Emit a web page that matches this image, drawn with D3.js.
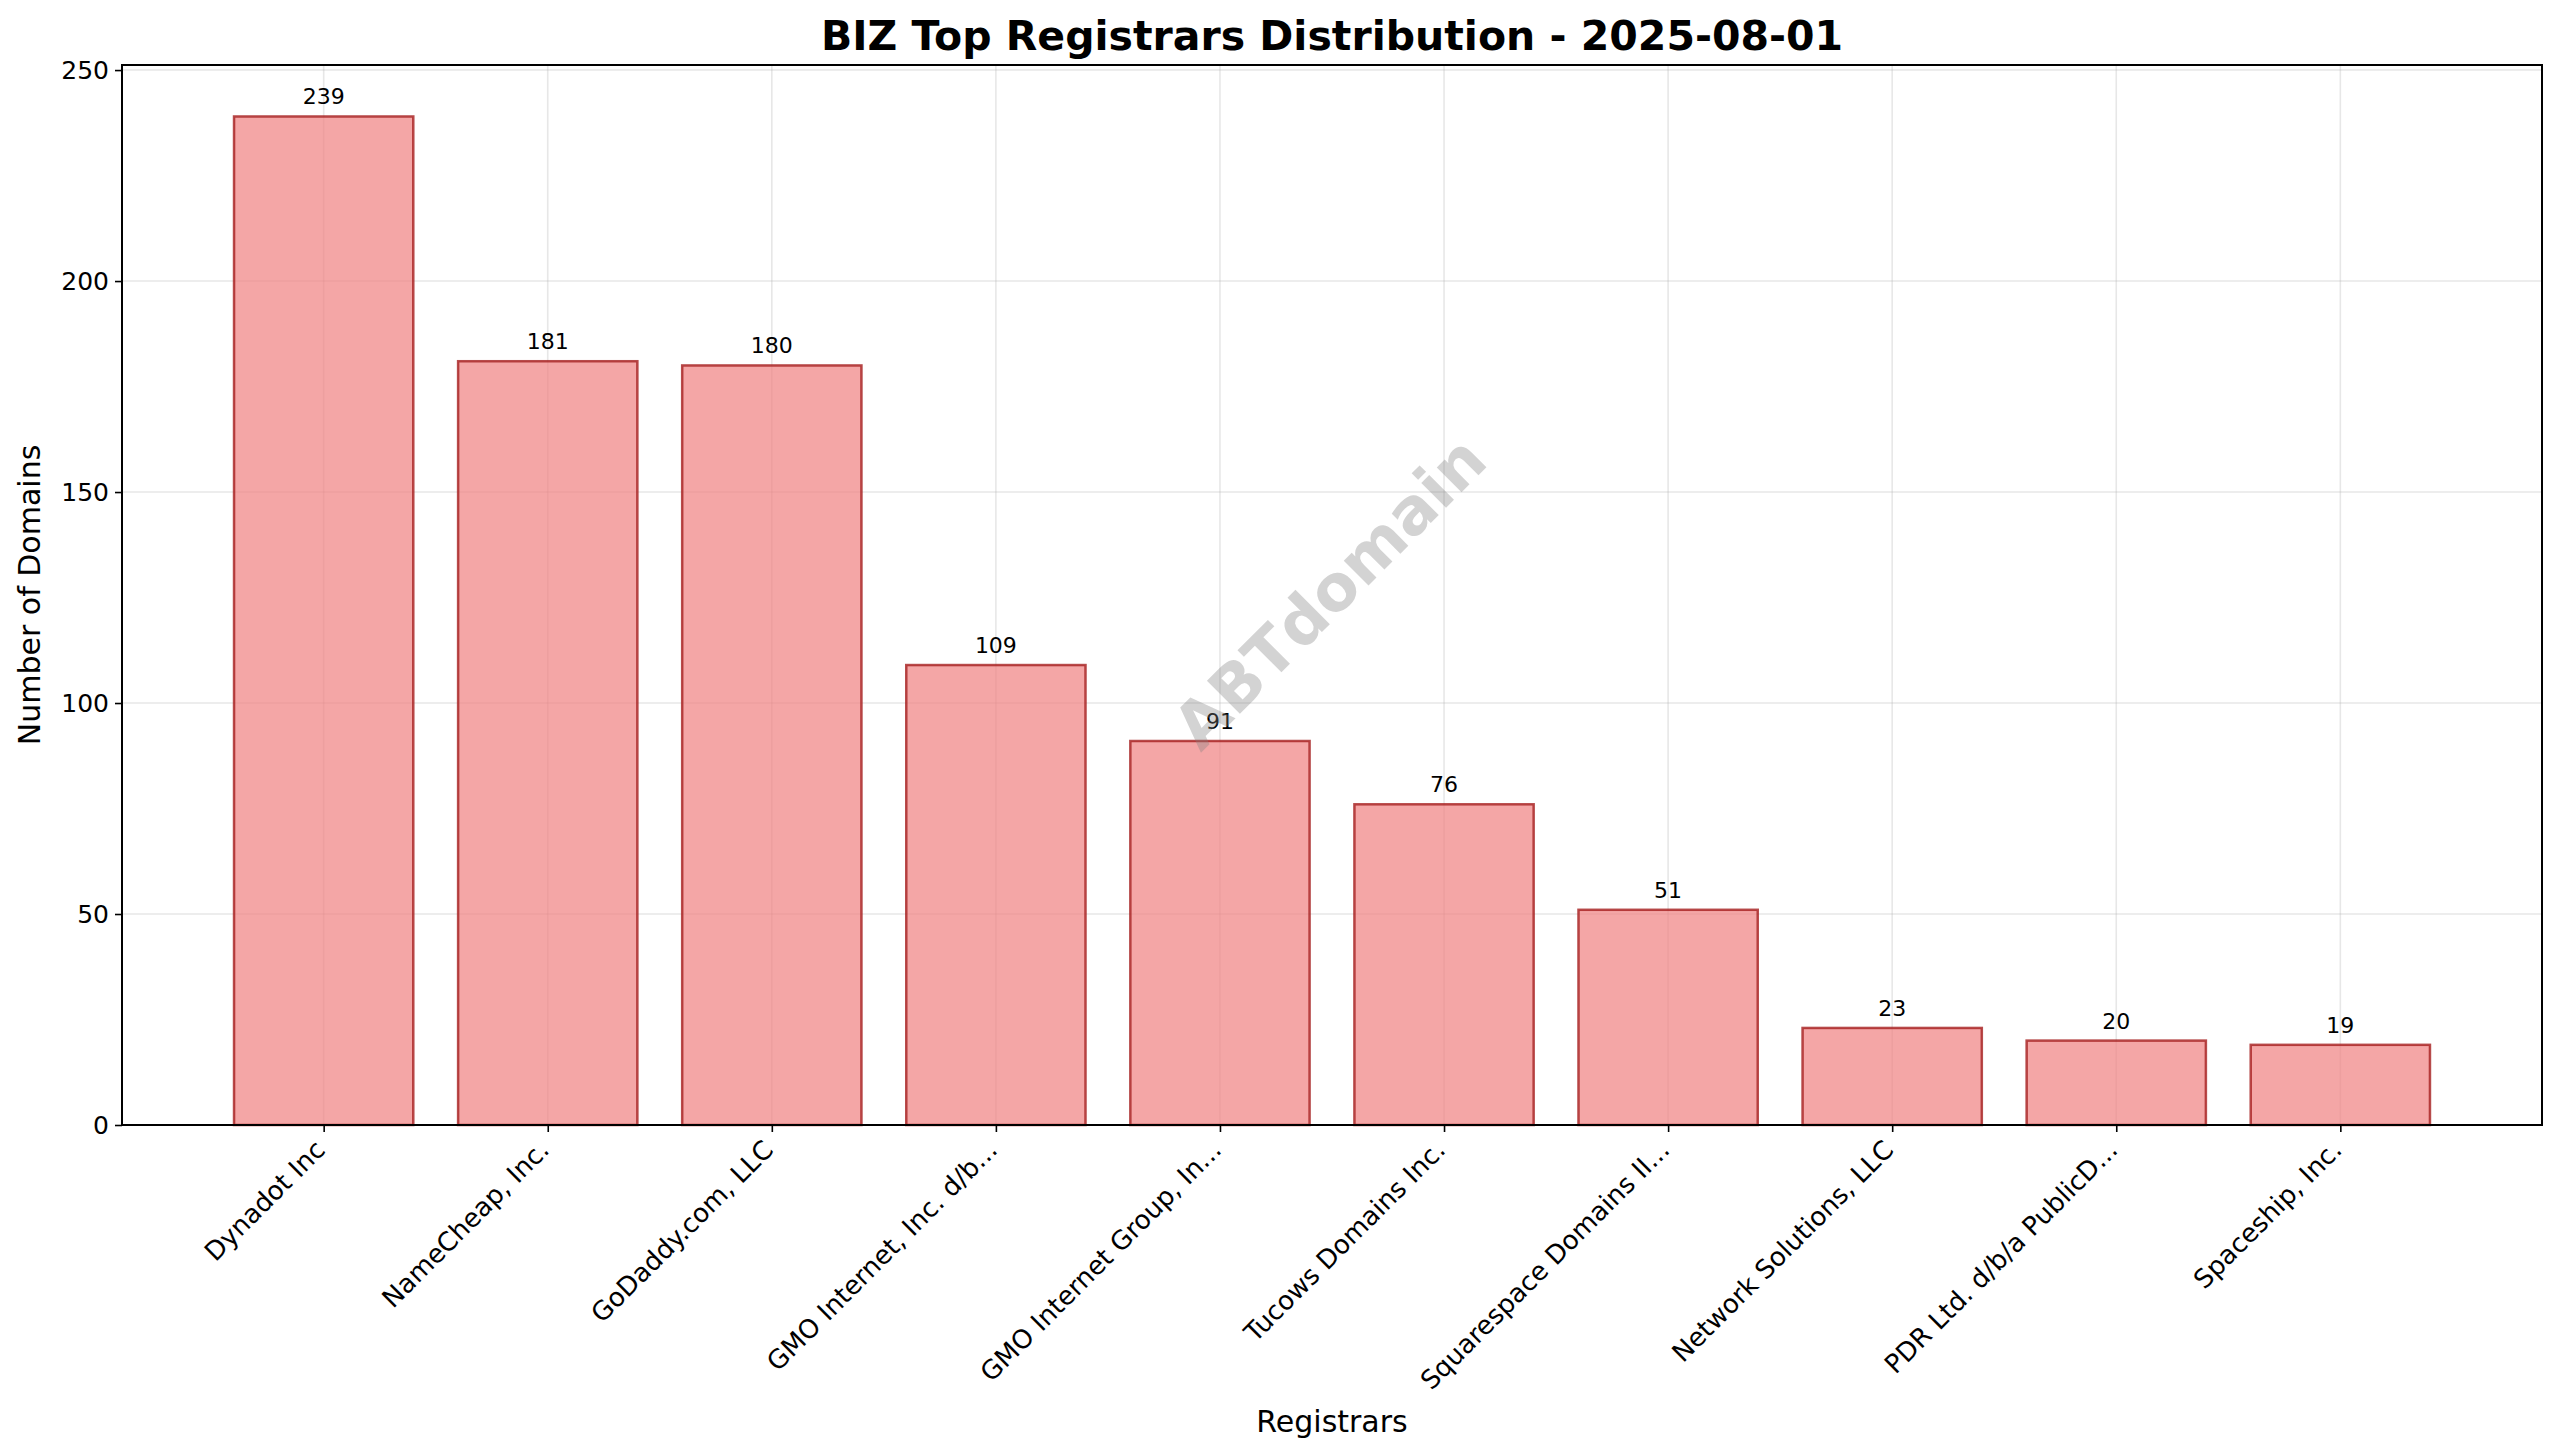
<!DOCTYPE html>
<html><head><meta charset="utf-8">
<script src="https://cdn.jsdelivr.net/npm/d3@7"></script>
<style>body{margin:0;background:#fff}svg{display:block;font-family:"DejaVu Sans",sans-serif}</style>
</head><body><svg id="c" width="2560" height="1456"></svg>
<script>
const categories = ["Dynadot Inc","NameCheap, Inc.","GoDaddy.com, LLC","GMO Internet, Inc. d/b...","GMO Internet Group, In...","Tucows Domains Inc.","Squarespace Domains II...","Network Solutions, LLC","PDR Ltd. d/b/a PublicD...","Spaceship, Inc."];
const values = [239,181,180,109,91,76,51,23,20,19];
const yTicks = [0,50,100,150,200,250];

const svg = d3.select("#c");
const L=122,R=2542,T=65,B=1125;
const x = d3.scaleLinear().domain([-0.9,9.9]).range([L,R]);
const y = d3.scaleLinear().domain([0,251.2]).range([B,T]);
const bw = x(0.8)-x(0);

svg.append("g").selectAll("line").data(yTicks).join("line")
  .attr("x1",L).attr("x2",R).attr("y1",d=>y(d)).attr("y2",d=>y(d))
  .attr("stroke","#b0b0b0").attr("stroke-opacity",0.3).attr("stroke-width",1.6);
svg.append("g").selectAll("line").data(categories).join("line")
  .attr("y1",T).attr("y2",B).attr("x1",(d,i)=>x(i)).attr("x2",(d,i)=>x(i))
  .attr("stroke","#b0b0b0").attr("stroke-opacity",0.3).attr("stroke-width",1.6);

svg.append("g").selectAll("rect").data(values).join("rect")
  .attr("x",(d,i)=>x(i)-bw/2).attr("width",bw)
  .attr("y",d=>y(d)).attr("height",d=>B-y(d))
  .attr("fill","rgba(240,128,128,0.7)").attr("stroke","rgba(165,30,30,0.8)").attr("stroke-width",2.5);

svg.append("g").selectAll("text").data(values).join("text")
  .attr("x",(d,i)=>x(i)).attr("y",d=>y(d)-12).attr("text-anchor","middle")
  .attr("font-size",22).text(d=>d);

svg.append("text").attr("transform","translate(1333,596) rotate(-45)")
  .attr("text-anchor","middle").attr("dominant-baseline","middle")
  .attr("font-size",64).attr("font-weight","bold").attr("fill","#808080").attr("fill-opacity",0.35)
  .text("ABTdomain");

svg.append("rect").attr("x",L).attr("y",T).attr("width",R-L).attr("height",B-T)
  .attr("fill","none").attr("stroke","#000").attr("stroke-width",2);

const ya = svg.append("g").attr("transform",`translate(${L},0)`)
  .call(d3.axisLeft(y).tickValues(yTicks).tickSize(7).tickPadding(6));
ya.select(".domain").remove();
ya.selectAll("text").attr("font-size",25).attr("font-family","DejaVu Sans");
ya.selectAll("line").attr("stroke-width",1.6);

const xa = svg.append("g").attr("transform",`translate(0,${B})`)
  .call(d3.axisBottom(x).tickValues(d3.range(categories.length)).tickFormat(i=>categories[i]).tickSize(7).tickPadding(6));
xa.select(".domain").remove();
xa.selectAll("line").attr("stroke-width",1.6);
xa.selectAll("text").attr("font-size",26).attr("font-family","DejaVu Sans")
  .attr("text-anchor","end").attr("x",0).attr("y",0).attr("dy","0.35em")
  .attr("transform","translate(-4,20) rotate(-45)");

svg.append("text").attr("x",(L+R)/2).attr("y",1432).attr("text-anchor","middle").attr("font-size",30).text("Registrars");
svg.append("text").attr("transform",`translate(40,${(T+B)/2}) rotate(-90)`).attr("text-anchor","middle").attr("font-size",30).text("Number of Domains");
svg.append("text").attr("x",(L+R)/2).attr("y",50).attr("text-anchor","middle").attr("font-size",41).attr("font-weight","bold").text("BIZ Top Registrars Distribution - 2025-08-01");
</script></body></html>
